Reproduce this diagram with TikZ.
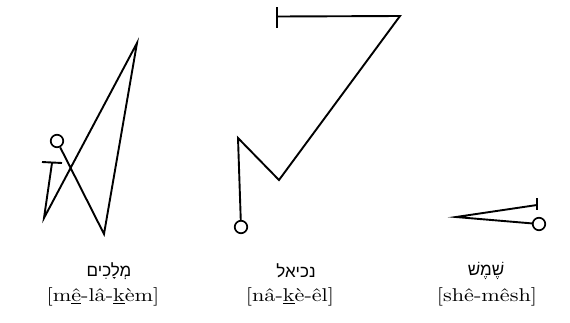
\documentclass[tikz,border=0pt]{standalone}
\usepackage{fontspec}
\newfontfamily\hebfont[Script=Hebrew]{Liberation Sans}
\newfontfamily\trfont{lmroman10-regular.otf}[FakeStretch=1.2]
\TeXXeTstate=1
\tikzset{
  stroke/.style={line width=1.9pt, line join=miter, black},
  ring/.style={circle, draw, line width=1.7pt, minimum size=12.5pt, inner sep=0pt},
  heb/.style={font=\fontsize{17}{19}\selectfont\hebfont, inner sep=0pt, anchor=center},
  translit/.style={font=\trfont\fontsize{18.5}{22}\selectfont, inner sep=0pt, anchor=center}
}
\begin{document}
\begin{tikzpicture}[x=1pt,y=-1pt]
\useasboundingbox (0,0) rectangle (570,322);
% figure 1
\node[ring] (c1) at (57,141) {};
\coordinate (a1) at (52,163);
\coordinate (a2) at (44,218);
\coordinate (a3) at (137,43);
\coordinate (a4) at (104,234);
\coordinate (t1l) at (42,162);
\coordinate (t1r) at (62,163);
\draw[stroke] (t1l) -- (t1r);
\draw[stroke] (a1) -- (a2) -- (a3) -- (a4) -- (c1);
% figure 2
\node[ring] (c2) at (241,227) {};
\coordinate (b0t) at (277,7);
\coordinate (b0b) at (277,28);
\coordinate (b1) at (277,16.5);
\coordinate (b2) at (400,16);
\coordinate (b3) at (279,180);
\coordinate (b4) at (238,138);
\draw[stroke] (b0t) -- (b0b);
\draw[stroke] (b1) -- (b2) -- (b3) -- (b4) -- (c2);
% figure 3
\node[ring] (c3) at (539,224) {};
\coordinate (d0t) at (537,198);
\coordinate (d0b) at (537,210);
\coordinate (d1) at (537,205);
\coordinate (d2) at (456,217);
\draw[stroke] (d0t) -- (d0b);
\draw[stroke] (d1) -- (d2) -- (c3);
% labels
\node[heb] (h1) at (109,271) {\beginR מְלָכִים\endR};
\node[translit] (l1) at (103,297) {[m\underline{ê}-lâ-\underline{k}èm]};
\node[heb] (h2) at (296,271) {\beginR נכיאל\endR};
\node[translit] (l2) at (290,297) {[nâ-\underline{k}è-êl]};
\node[heb] (h3) at (486,271) {\beginR שֶׁמֶשׁ\endR};
\node[translit] (l3) at (487,297) {[shê-mêsh]};
\end{tikzpicture}
\end{document}
